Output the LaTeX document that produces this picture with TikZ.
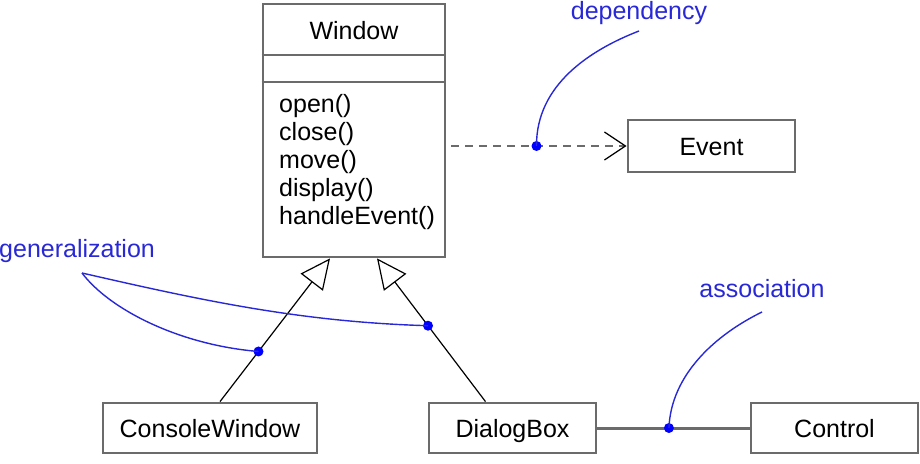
\documentclass[tikz,border=0pt]{standalone}
\usepackage{fontspec}
\setmainfont{Liberation Sans}
\usetikzlibrary{arrows.meta}
\definecolor{edgegray}{gray}{0.42}
\definecolor{noteblue}{RGB}{40,40,215}

\begin{document}
\begin{tikzpicture}[x=1pt,y=-1pt,
    every node/.style={font=\fontsize{25pt}{28pt}\selectfont},
    cls/.style={draw=edgegray, line width=2.8pt, fill=white, inner sep=0pt,
      minimum height=50pt, text height=18pt, text depth=0pt},
    gen/.style={-{Triangle[open,length=30pt,width=28pt]}, line width=1.2pt},
    dep/.style={edgegray, dashed, dash pattern=on 8pt off 6pt, line width=2pt, shorten <=5pt,
      -{Straight Barb[length=21pt,width=28pt,color=black,line width=1.3pt]}},
    pin/.style={circle, fill=blue, inner sep=0pt, minimum size=10pt},
    note/.style={noteblue, line width=1.4pt}]
  \useasboundingbox (0,0) rectangle (920,463);
  \node[cls, minimum width=182pt, minimum height=253pt] (win) at (354,130.5) {};
  \draw[edgegray, line width=2.8pt] (win.west |- 0,55) -- (win.east |- 0,55);
  \draw[edgegray, line width=2.8pt] (win.west |- 0,82) -- (win.east |- 0,82);
  \node[anchor=base] (wname) at (354,39) {Window};
  \foreach \op [count=\i] in {open(),close(),move(),display(),handleEvent()} {
    \node[anchor=base west, inner sep=0pt] (op\i) at (279,{84+28*\i}) {\op};
  }
  \node[cls, minimum width=167pt, minimum height=52pt] (ev) at (711.5,146) {Event};
  \node[cls, minimum width=214pt] (cw) at (210,428) {ConsoleWindow};
  \node[cls, minimum width=167pt] (db) at (512.5,428) {DialogBox};
  \node[cls, minimum width=167pt] (ctl) at (834.5,428) {Control};
  \draw[dep] (win.east |- ev.west) -- node[pin] (pdep) {} (ev.west);
  \draw[edgegray, line width=3pt] (db.east) -- node[pin, pos=0.47] (passoc) {} (ctl.west);
  \draw[gen] ([xshift=10pt]cw.north) -- node[pin, pos=0.35] (pgen1) {} ([xshift=-24pt]win.south);
  \draw[gen] ([xshift=-27pt]db.north) -- node[pin, pos=0.53] (pgen2) {} ([xshift=23pt]win.south);
  \node[noteblue, anchor=base] (tdep) at (639,19) {dependency};
  \node[noteblue, anchor=base] (tassoc) at (762,297) {association};
  \node[noteblue, anchor=base west, inner sep=0pt] (tgen) at (-1,257) {generalization};
  \coordinate (cdep) at (639,31);
  \coordinate (cassoc) at (762,312);
  \coordinate (cgen) at (82,273);
  \draw[note] (pdep.center) .. controls (536,85) and (590,50) .. (cdep);
  \draw[note] (passoc.center) .. controls (671,375) and (715,335) .. (cassoc);
  \draw[note] (cgen) .. controls (110,310) and (180,345) .. (pgen1.center);
  \draw[note] (cgen) .. controls (200,300) and (300,322) .. (pgen2.center);
\end{tikzpicture}
\end{document}
